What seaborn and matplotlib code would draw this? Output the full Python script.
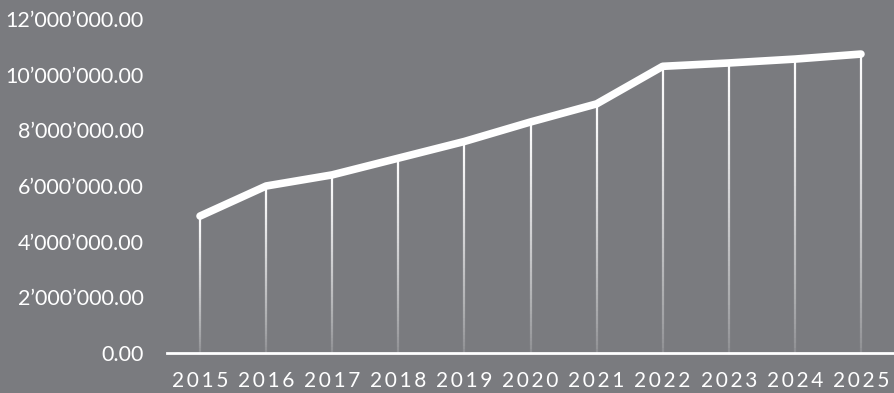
import numpy as np
import pandas as pd
import matplotlib
matplotlib.use("Agg")
import matplotlib.pyplot as plt
import seaborn as sns
from matplotlib.collections import LineCollection
from matplotlib.ticker import FuncFormatter

years = [2015, 2016, 2017, 2018, 2019, 2020, 2021, 2022, 2023, 2024, 2025]
values = [4.92e6, 6.0e6, 6.4e6, 7.0e6, 7.6e6, 8.3e6, 8.95e6, 10.3e6, 10.42e6, 10.56e6, 10.74e6]
yticks = [0, 2e6, 4e6, 6e6, 8e6, 10e6, 12e6]

BG = "#7a7b7f"
sns.set_theme(style="white")
plt.rcParams['font.family'] = ['Lato', 'DejaVu Sans']

df = pd.DataFrame({"year": years, "value": values})
df["pos"] = np.arange(len(years))

fig = plt.figure(figsize=(8.94, 3.93), dpi=100, facecolor=BG)
ax = fig.add_axes([167/894, 40/393, 1 - 167/894, (353-19)/393])
ax.set_facecolor(BG)

# gradient drop lines
n = 60
segs, cols = [], []
for x, v in zip(df["pos"], df["value"]):
    ys = np.linspace(0, v, n + 1)
    for i in range(n):
        segs.append([(x, ys[i]), (x, ys[i+1])])
        a = 0.15 + 0.85 * (i / (n - 1)) ** 0.8
        cols.append((1, 1, 1, a))
ax.add_collection(LineCollection(segs, colors=cols, linewidths=1.6, capstyle="butt"))

sns.lineplot(data=df, x="pos", y="value", ax=ax, color="white", linewidth=5.5,
             solid_capstyle="round", solid_joinstyle="round")

ax.set_xlim(-0.5, len(years) - 0.5)
ax.set_ylim(0, 12e6)
ax.set_yticks(yticks)
ax.yaxis.set_major_formatter(FuncFormatter(lambda v, p: f"{v:,.2f}".replace(",", "\u2019")))
ax.set_xticks(df["pos"])
ax.set_xticklabels(["\u2009".join(str(y)) for y in years])
ax.tick_params(axis="both", length=0, colors="white")
ax.tick_params(axis="y", pad=17, labelsize=15.5)
ax.tick_params(axis="x", pad=13, labelsize=15)
for s in ["top", "right", "left"]:
    ax.spines[s].set_visible(False)
ax.spines["bottom"].set_color("white")
ax.spines["bottom"].set_linewidth(2)
ax.set_xlabel("")
ax.set_ylabel("")
ax.grid(False)

fig.savefig("out.png", dpi=100, facecolor=BG)
